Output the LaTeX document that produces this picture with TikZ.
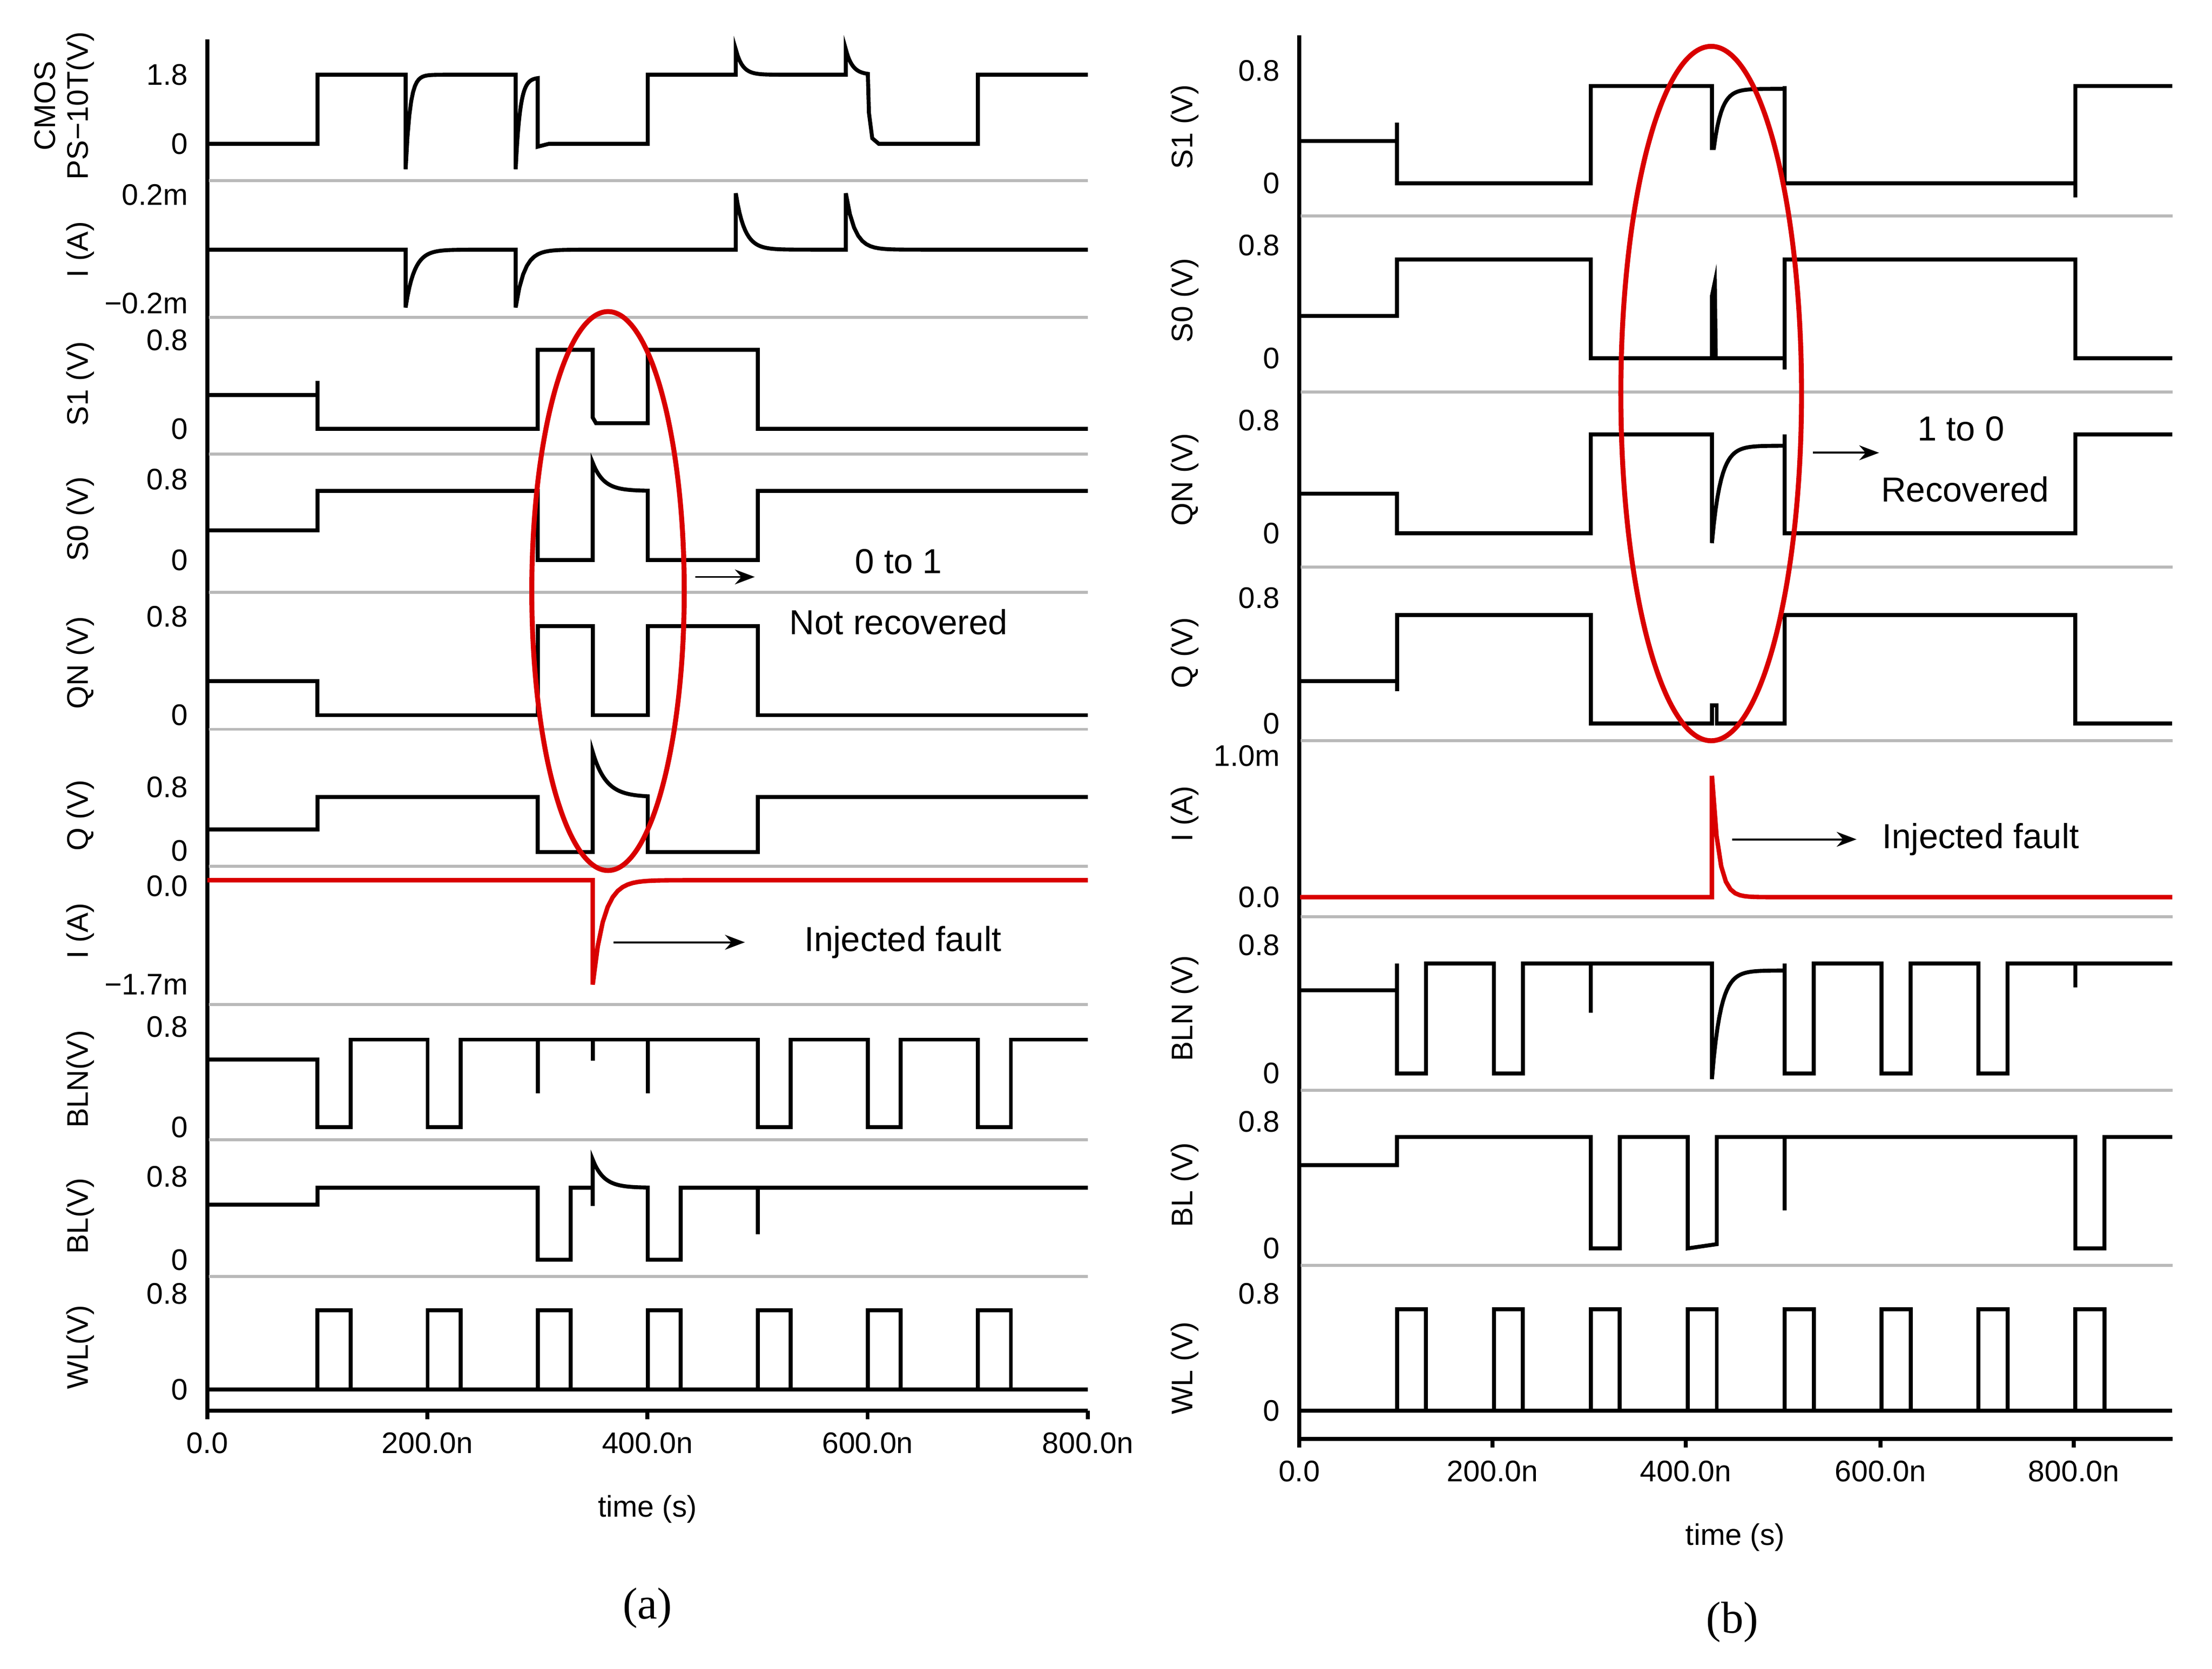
\documentclass[tikz,border=0pt]{standalone}
\usepackage{fontspec}
\setmainfont{Liberation Sans}
\newfontfamily\serifface{Liberation Serif}
\usetikzlibrary{arrows.meta}
\begin{document}
\begin{tikzpicture}[x=0.01cm,y=-0.01cm,
  sig/.style={line width=0.8pt,line join=miter},
  fault/.style={line width=0.9pt,red!85!black},
  sep/.style={gray!55,line width=0.6pt},
  axisline/.style={line width=0.8pt},
  tick/.style={font=\fontsize{6}{7}\selectfont,anchor=east,inner sep=0pt},
  xtick/.style={font=\fontsize{6}{7}\selectfont,anchor=north,inner sep=0pt},
  ylab/.style={font=\fontsize{6}{7}\selectfont,rotate=90,inner sep=0pt},
  note/.style={font=\fontsize{7}{8}\selectfont,inner sep=1pt},
  ring/.style={red!85!black,line width=1pt},
  pointer/.style={-{Stealth[length=4pt]},line width=0.4pt}]
\useasboundingbox (0,0) rectangle (1568,1183);
% ================= Panel (a) =================
\draw[axisline] (147,28) -- (147,1000) -- (771,1000);
\foreach \x in {147,303,459,615,771} \draw[axisline] (\x,1000) -- (\x,1006);
\foreach \y in {128,225,322,420,517,614,712,808,905} \draw[sep] (148,\y) -- (771,\y);
\node[xtick] (xa0) at (147,1015) {0.0};
\node[xtick] (xa1) at (303,1015) {200.0n};
\node[xtick] (xa2) at (459,1015) {400.0n};
\node[xtick] (xa3) at (615,1015) {600.0n};
\node[xtick] (xa4) at (771,1015) {800.0n};
\node[font=\fontsize{6}{7}\selectfont] (tla) at (459,1070) {time (s)};
\node[font=\serifface\fontsize{9}{10}\selectfont] (capa) at (459,1140) {(a)};
\foreach \y/\t in {53/1.8,102/0,138/0.2m,215/\textminus0.2m,241/0.8,304/0,340/0.8,397/0,437/0.8,507/0,558/0.8,603/0,628/0.0,698/\textminus1.7m,728/0.8,799/0,834/0.8,893/0,917/0.8,985/0}
  \node[tick] at (134,\y) {\t};
\node[ylab] (la1) at (32,75) {CMOS};
\node[ylab] (la1b) at (57,75) {PS\textminus10T(V)};
\node[ylab] (la2) at (57,177) {I (A)};
\node[ylab] (la3) at (57,272) {S1 (V)};
\node[ylab] (la4) at (57,368) {S0 (V)};
\node[ylab] (la5) at (57,470) {QN (V)};
\node[ylab] (la6) at (57,578) {Q (V)};
\node[ylab] (la7) at (57,660) {I (A)};
\node[ylab] (la8) at (57,765) {BLN(V)};
\node[ylab] (la9) at (57,862) {BL(V)};
\node[ylab] (la10) at (57,955) {WL(V)};
\begin{scope}[xshift=1.47cm,x=0.0078cm]
\draw[sig] (0,102)--(100,102)--(100,53)--(180,53)--(180,120)--plot[domain=180:280,samples=60](\x,{53+67*exp(-(\x-180)/4)})--(280,120)--plot[domain=280:300,samples=30](\x,{55+65*exp(-(\x-280)/4)})--(300,104)--(310,102)--(400,102)--(400,53)--(480,53)--(480,35)--plot[domain=480:580,samples=60](\x,{53-18*exp(-(\x-480)/6)})--(580,35)--plot[domain=580:600,samples=20](\x,{53-18*exp(-(\x-580)/6)})--(601,80)--(604,98)--(610,102)--(700,102)--(700,53)--(800,53);
\draw[sig] (0,177)--(180,177)--(180,218)--plot[domain=180:280,samples=60](\x,{177+41*exp(-(\x-180)/8)})--(280,218)--plot[domain=280:480,samples=60](\x,{177+41*exp(-(\x-280)/8)})--(480,137)--plot[domain=480:580,samples=60](\x,{177-40*exp(-(\x-480)/8)})--(580,137)--plot[domain=580:800,samples=60](\x,{177-40*exp(-(\x-580)/8)});
\draw[sig] (0,280)--(100,280)--(100,270)--(100,304)--(300,304)--(300,248)--(350,248)--(350,296)--(353,300)--(400,300)--(400,248)--(500,248)--(500,304)--(800,304);
\draw[sig] (0,376)--(100,376)--(100,348)--(300,348)--(300,397)--(350,397)--(350,328)--plot[domain=350:400,samples=40](\x,{348-20*exp(-(\x-350)/10)})--(400,397)--(500,397)--(500,348)--(800,348);
\draw[sig] (0,483)--(100,483)--(100,507)--(300,507)--(300,444)--(350,444)--(350,507)--(400,507)--(400,444)--(500,444)--(500,507)--(800,507);
\draw[sig] (0,588)--(100,588)--(100,565)--(300,565)--(300,604)--(350,604)--(350,533)--plot[domain=350:400,samples=40](\x,{565-32*exp(-(\x-350)/12)})--(400,604)--(500,604)--(500,565)--(800,565);
\draw[fault] (0,624)--(350,624)--(350,698)--plot[domain=350:800,samples=100](\x,{624+74*exp(-(\x-350)/10)});
\draw[sig] (0,751)--(100,751)--(100,799)--(130,799)--(130,737)--(200,737)--(200,799)--(230,799)--(230,737)--(300,737)--(300,775)--(300,737)--(350,737)--(350,752)--(350,737)--(400,737)--(400,775)--(400,737)--(500,737)--(500,799)--(530,799)--(530,737)--(600,737)--(600,799)--(630,799)--(630,737)--(700,737)--(700,799)--(730,799)--(730,737)--(800,737);
\draw[sig] (0,854)--(100,854)--(100,842)--(300,842)--(300,893)--(330,893)--(330,842)--(350,842)--(350,855)--(350,822)--plot[domain=350:400,samples=40](\x,{842-20*exp(-(\x-350)/10)})--(400,893)--(430,893)--(430,842)--(500,842)--(500,875)--(500,842)--(800,842);
\draw[sig] (0,985)--(800,985);
\foreach \t in {100,200,...,700} \draw[sig] (\t,985)--(\t,929)--(\t+30,929)--(\t+30,985);
\end{scope}
\draw[ring] (431,419) ellipse [x radius=0.54cm, y radius=1.98cm];
\coordinate (pa1) at (493,409);
\node[note] (ta1) at (637,398) {0 to 1};
\node[note] (ta2) at (637,441) {Not recovered};
\draw[pointer] (pa1) -- (535,409);
\coordinate (pa2) at (435,668);
\node[note] (ta3) at (640,668) {Injected fault};
\draw[pointer] (pa2) -- (528,668);
% ================= Panel (b) =================
\draw[axisline] (921,25) -- (921,1020) -- (1540,1020);
\foreach \x in {921,1058,1195,1333,1470} \draw[axisline] (\x,1020) -- (\x,1026);
\foreach \y in {153,278,402,525,650,773,897} \draw[sep] (922,\y) -- (1540,\y);
\node[xtick] (xb0) at (921,1035) {0.0};
\node[xtick] (xb1) at (1058,1035) {200.0n};
\node[xtick] (xb2) at (1195,1035) {400.0n};
\node[xtick] (xb3) at (1333,1035) {600.0n};
\node[xtick] (xb4) at (1470,1035) {800.0n};
\node[font=\fontsize{6}{7}\selectfont] (tlb) at (1230,1090) {time (s)};
\node[font=\serifface\fontsize{9}{10}\selectfont] (capb) at (1228,1150) {(b)};
\foreach \y/\t in {50/0.8,130/0,174/0.8,254/0,298/0.8,378/0,424/0.8,513/0,536/1.0m,636/0.0,670/0.8,761/0,795/0.8,885/0,917/0.8,1000/0}
  \node[tick] at (908,\y) {\t};
\node[ylab] (lb1) at (840,90) {S1 (V)};
\node[ylab] (lb2) at (840,213) {S0 (V)};
\node[ylab] (lb3) at (840,340) {QN (V)};
\node[ylab] (lb4) at (840,463) {Q (V)};
\node[ylab] (lb5) at (840,577) {I (A)};
\node[ylab] (lb6) at (840,715) {BLN (V)};
\node[ylab] (lb7) at (840,840) {BL (V)};
\node[ylab] (lb8) at (840,970) {WL (V)};
\begin{scope}[xshift=9.21cm,x=0.00686cm]
\draw[sig] (0,100)--(100,100)--(100,87)--(100,130)--(300,130)--(300,61)--(425,61)--(425,105)--plot[domain=427:500,samples=40](\x,{63+42*exp(-(\x-427)/8)})--(500,61)--(500,130)--(800,130)--(800,140)--(800,61)--(900,61);
\draw[sig] (0,224)--(100,224)--(100,184)--(300,184)--(300,254)--(425,254)--(425,210)--(428,200)--(429,254)--(500,254)--(500,262)--(500,184)--(800,184)--(800,254)--(900,254);
\draw[sig] (0,350)--(100,350)--(100,378)--(300,378)--(300,308)--(425,308)--(425,385)--plot[domain=425:500,samples=40](\x,{316+69*exp(-(\x-425)/9)})--(500,308)--(500,378)--(800,378)--(800,308)--(900,308);
\draw[sig] (0,483)--(100,483)--(100,490)--(100,436)--(300,436)--(300,513)--(425,513)--(425,500)--(430,500)--(430,513)--(500,513)--(500,436)--(800,436)--(800,513)--(900,513);
\draw[fault] (0,636)--(425,636)--(425,550)--plot[domain=425:900,samples=100](\x,{636-86*exp(-(\x-425)/7)});
\draw[sig] (0,702)--(100,702)--(100,683)--(100,761)--(130,761)--(130,683)--(200,683)--(200,761)--(230,761)--(230,683)--(300,683)--(300,718)--(300,683)--(425,683)--(425,765)--plot[domain=425:500,samples=40](\x,{688+77*exp(-(\x-425)/9)})--(500,683)--(500,761)--(530,761)--(530,683)--(600,683)--(600,761)--(630,761)--(630,683)--(700,683)--(700,761)--(730,761)--(730,683)--(800,683)--(800,700)--(800,683)--(900,683);
\draw[sig] (0,826)--(100,826)--(100,806)--(300,806)--(300,885)--(330,885)--(330,806)--(400,806)--(400,885)--(430,882)--(430,806)--(500,806)--(500,858)--(500,806)--(800,806)--(800,885)--(830,885)--(830,806)--(900,806);
\draw[sig] (0,1000)--(900,1000);
\foreach \t in {100,200,...,800} \draw[sig] (\t,1000)--(\t,928)--(\t+30,928)--(\t+30,1000);
\end{scope}
\draw[ring] (1213,279) ellipse [x radius=0.64cm, y radius=2.46cm];
\coordinate (pb1) at (1285,321);
\node[note] (tb1) at (1390,304) {1 to 0};
\node[note] (tb2) at (1393,347) {Recovered};
\draw[pointer] (pb1) -- (1332,321);
\coordinate (pb2) at (1228,595);
\node[note] (tb3) at (1404,595) {Injected fault};
\draw[pointer] (pb2) -- (1316,595);
\end{tikzpicture}
\end{document}
